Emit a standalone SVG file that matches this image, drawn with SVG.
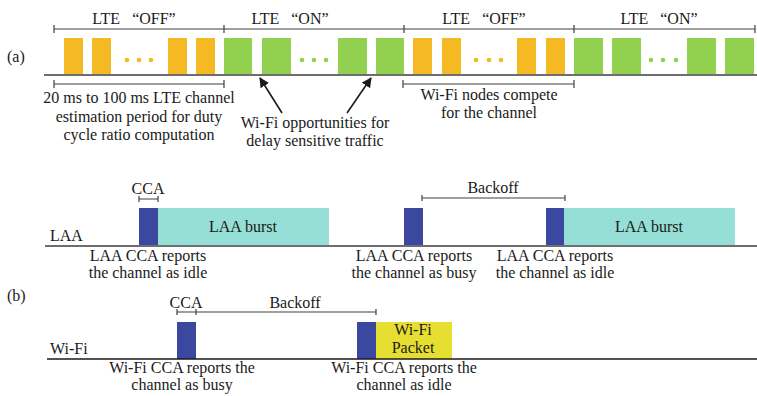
<svg xmlns="http://www.w3.org/2000/svg" width="757" height="396" viewBox="0 0 757 396">
<style>
text{font-family:"Liberation Serif","Times New Roman",serif;font-size:16px;fill:#1a1a1a}
.m{text-anchor:middle}
.span{stroke:#404040;stroke-width:1.2;fill:none}
.base{stroke:#6e6e6e;stroke-width:2;fill:none}
.baseb{stroke:#1a1a1a;stroke-width:1.5;fill:none}
.or{fill:#F5B923}
.gr{fill:#92D050}
.bl{fill:#3A48A0}
.tl{fill:#95DFD6}
.ye{fill:#E6DF32}
.arr{stroke:#1a1a1a;stroke-width:1.6;fill:none;marker-end:url(#ah)}
</style>
<defs>
<marker id="ah" viewBox="0 0 10 10" refX="9" refY="5" markerWidth="10" markerHeight="10" markerUnits="userSpaceOnUse" orient="auto">
<path d="M0,0 L10,5 L0,10 z" fill="#1a1a1a"/>
</marker>
</defs>
<rect width="757" height="396" fill="#fff"/>

<!-- (a) -->
<g id="label-a"><text x="7" y="62">(a)</text></g>
<g id="timeline-a">
<path class="span" d="M54,29 H755 M54,25 V33 M224,25 V33 M404,25 V33 M574,25 V33 M755,25 V33"/>
<text class="m" x="134" y="24">LTE<tspan dx="12">“OFF”</tspan></text>
<text class="m" x="290" y="24">LTE<tspan dx="12">“ON”</tspan></text>
<text class="m" x="484" y="24">LTE<tspan dx="12">“OFF”</tspan></text>
<text class="m" x="659" y="24">LTE<tspan dx="12">“ON”</tspan></text>
</g>
<g id="off-1">
<rect class="or" x="64" y="38" width="19" height="37"/>
<rect class="or" x="92" y="38" width="19" height="37"/>
<circle class="or" cx="127" cy="60" r="2.3"/><circle class="or" cx="139" cy="60" r="2.3"/><circle class="or" cx="151" cy="60" r="2.3"/>
<rect class="or" x="168" y="38" width="19" height="37"/>
<rect class="or" x="196" y="38" width="19" height="37"/>
</g>
<g id="on-1">
<rect class="gr" x="224" y="38" width="28" height="37"/>
<rect class="gr" x="262" y="38" width="29" height="37"/>
<circle class="gr" cx="302" cy="60" r="2.3"/><circle class="gr" cx="314" cy="60" r="2.3"/><circle class="gr" cx="326" cy="60" r="2.3"/>
<rect class="gr" x="338" y="38" width="29" height="37"/>
<rect class="gr" x="376" y="38" width="28" height="37"/>
</g>
<g id="off-2">
<rect class="or" x="413" y="38" width="19" height="37"/>
<rect class="or" x="442" y="38" width="19" height="37"/>
<circle class="or" cx="476" cy="60" r="2.3"/><circle class="or" cx="489" cy="60" r="2.3"/><circle class="or" cx="501" cy="60" r="2.3"/>
<rect class="or" x="517" y="38" width="19" height="37"/>
<rect class="or" x="546" y="38" width="19" height="37"/>
</g>
<g id="on-2">
<rect class="gr" x="574" y="38" width="29" height="37"/>
<rect class="gr" x="612" y="38" width="29" height="37"/>
<circle class="gr" cx="651" cy="60" r="2.3"/><circle class="gr" cx="663" cy="60" r="2.3"/><circle class="gr" cx="676" cy="60" r="2.3"/>
<rect class="gr" x="687" y="38" width="29" height="37"/>
<rect class="gr" x="725" y="38" width="29" height="37"/>
</g>
<g id="baseline-a"><path class="base" d="M44,75 H757"/></g>
<g id="estimation">
<path class="span" d="M54,84 H224 M54,80 V88 M224,80 V88"/>
<text class="m" x="139" y="103">20 ms to 100 ms LTE channel</text>
<text class="m" x="139" y="122">estimation period for duty</text>
<text class="m" x="139" y="140">cycle ratio computation</text>
</g>
<g id="opportunities">
<text class="m" x="315" y="128">Wi-Fi opportunities for</text>
<text class="m" x="315" y="146">delay sensitive traffic</text>
</g>
<g id="compete">
<path class="span" d="M403,84 H574 M403,80 V88 M574,80 V88"/>
<text class="m" x="489" y="100">Wi-Fi nodes compete</text>
<text class="m" x="489" y="118">for the channel</text>
</g>

<!-- LAA -->
<g id="laa-row">
<text x="50" y="241">LAA</text>
</g>
<g id="laa-cca1">
<text class="m" x="148" y="194">CCA</text>
<path class="span" d="M139,199 H158 M139,196 V202 M158,196 V202"/>
<rect class="bl" x="139" y="208" width="19" height="38"/>
<rect class="tl" x="158" y="208" width="171" height="38"/>
<text class="m" x="243" y="232">LAA burst</text>
<text class="m" x="148" y="261">LAA CCA reports</text>
<text class="m" x="148" y="278">the channel as idle</text>
</g>
<g id="laa-cca2">
<rect class="bl" x="404" y="208" width="19" height="38"/>
<text class="m" x="414" y="261">LAA CCA reports</text>
<text class="m" x="414" y="278">the channel as busy</text>
</g>
<g id="laa-backoff">
<text class="m" x="493" y="193">Backoff</text>
<path class="span" d="M422,198 H565 M422,195 V201 M565,195 V201"/>
</g>
<g id="laa-cca3">
<rect class="bl" x="546" y="208" width="18" height="38"/>
<rect class="tl" x="564" y="208" width="171" height="38"/>
<text class="m" x="649" y="232">LAA burst</text>
<text class="m" x="555" y="261">LAA CCA reports</text>
<text class="m" x="555" y="278">the channel as idle</text>
</g>
<g id="baseline-laa"><path class="base" d="M45,246 H757"/></g>

<!-- (b) -->
<g id="label-b"><text x="7" y="301">(b)</text></g>
<g id="wifi-row"><text x="50" y="354">Wi-Fi</text></g>
<g id="wifi-cca1">
<text class="m" x="186" y="308">CCA</text>
<rect class="bl" x="177" y="322" width="19" height="37"/>
<text class="m" x="182" y="373">Wi-Fi CCA reports the</text>
<text class="m" x="182" y="390">channel as busy</text>
</g>
<g id="wifi-backoff">
<path class="span" d="M177,312 H376 M177,309 V315 M196,309 V315 M376,309 V315"/>
<text class="m" x="295" y="308">Backoff</text>
</g>
<g id="wifi-cca2">
<rect class="bl" x="357" y="322" width="19" height="37"/>
<rect class="ye" x="376" y="322" width="76" height="37"/>
<text class="m" x="413" y="335">Wi-Fi</text>
<text class="m" x="413" y="353">Packet</text>
<text class="m" x="404" y="373">Wi-Fi CCA reports the</text>
<text class="m" x="404" y="390">channel as idle</text>
</g>
<g id="baseline-wifi"><path class="baseb" d="M47,359 H757"/></g>

<g id="connectors">
<path class="arr" d="M282,113 L260,78"/>
<path class="arr" d="M347,113 L371,78"/>
</g>
</svg>
